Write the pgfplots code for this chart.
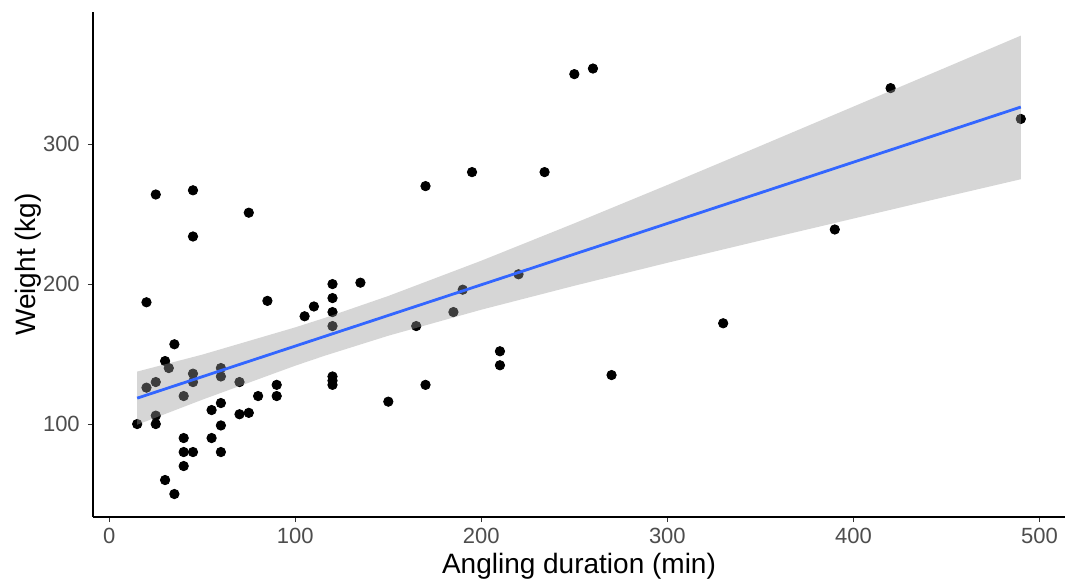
\documentclass[border=0pt]{standalone}
\usepackage{fontspec}
\setmainfont{Liberation Sans}
\usepackage{pgfplots}
\pgfplotsset{compat=1.18}
\definecolor{smoothblue}{HTML}{3366FF}
\definecolor{bandgray}{HTML}{999999}
\definecolor{ticktext}{HTML}{4D4D4D}
\definecolor{tickline}{HTML}{333333}
\begin{document}
\begin{tikzpicture}
\begin{axis}[
  name=ax,
  scale only axis,
  width=486pt, height=252.5pt,
  xmin=-8.75, xmax=513.75,
  ymin=33.6, ymax=394.4,
  axis lines*=left,
  axis line style={-, black, line width=0.55pt},
  xtick={0,100,200,300,400,500},
  ytick={100,200,300},
  tick align=outside,
  major tick length=2.6pt,
  tick style={tickline, line width=0.55pt},
  /pgf/number format/assume math mode=true,
  ticklabel style={font=\fontsize{11}{12}\selectfont, text=ticktext},
  xticklabel style={yshift=0.5pt},
  yticklabel style={xshift=-0.5pt},
  label style={font=\fontsize{14}{16}\selectfont},
  xlabel={Angling duration (min)},
  ylabel={Weight (kg)},
  xlabel style={at={(axis description cs:0.5,-0.097)}, anchor=center},
  ylabel style={at={(axis description cs:-0.067,0.5)}, anchor=center},
  clip=false,
  clip marker paths=true,
]
\addplot[only marks, mark=*, mark size=2.35pt, black] coordinates {
(15,100) (20,126) (20,187) (25,264) (25,130) (25,106) (25,100)
(30,145) (30,60) (32,140) (35,157) (35,50)
(40,120) (40,90) (40,80) (40,70)
(45,267) (45,234) (45,136) (45,130) (45,80)
(55,110) (55,90)
(60,140) (60,134) (60,115) (60,99) (60,80)
(70,130) (70,107) (75,251) (75,108) (80,120) (85,188)
(90,128) (90,120) (105,177) (110,184)
(120,200) (120,190) (120,180) (120,170) (120,134) (120,131) (120,128)
(135,201) (150,116) (165,170) (170,270) (170,128)
(185,180) (190,196) (195,280) (210,152) (210,142) (220,207)
(234,280) (250,350) (260,354) (270,135)
(330,172) (390,239) (420,340) (490,318)
};
\addplot[draw=none, fill=bandgray, fill opacity=0.4] coordinates {
(15,137.5) (50,149.6) (100,169.1) (116,175.9) (150,191.5) (200,216.7)
(250,243.4) (300,270.8) (350,298.7) (400,326.8) (450,354.9) (490,377.5)
(490,274.9) (450,262.5) (400,246.8) (350,231.1) (300,215.2) (250,198.8)
(200,181.7) (150,163.1) (116,148.9) (100,141.7) (50,117.4) (15,99.5)
} -- cycle;
\addplot[smoothblue, line width=1.4pt] coordinates {(15,118.5) (490,326.5)};
\end{axis}
\pgfresetboundingbox
\path ([xshift=-46.5pt,yshift=-32pt]ax.south west) rectangle ([xshift=1pt,yshift=6pt]ax.north east);
\end{tikzpicture}
\end{document}
